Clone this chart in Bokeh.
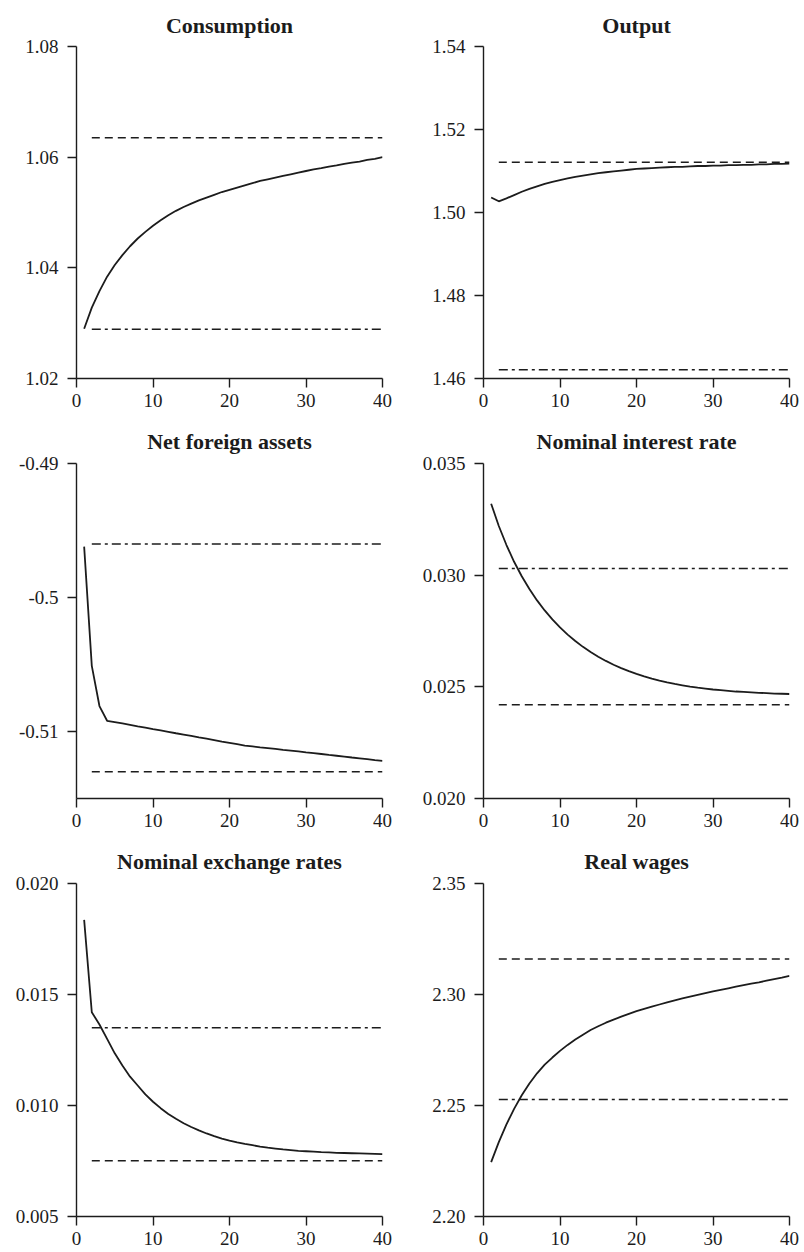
from bokeh.plotting import figure
from bokeh.layouts import column, row
from bokeh.models import Range1d, FixedTicker, PrintfTickFormatter, CustomJSTickFormatter
from bokeh.embed import file_html
from bokeh.resources import INLINE

# ---------------- data ----------------
periods = list(range(1, 41))
x_ticks = [0, 10, 20, 30, 40]

titles = ["Consumption", "Output", "Net foreign assets",
          "Nominal interest rate", "Nominal exchange rates", "Real wages"]

consumption = [1.0290, 1.0328, 1.0358, 1.0384, 1.0405, 1.0423, 1.0439, 1.0453, 1.0465, 1.0476,
               1.0486, 1.0495, 1.0503, 1.0510, 1.0516, 1.0522, 1.0527, 1.0532, 1.0537, 1.0541,
               1.0545, 1.0549, 1.0553, 1.0557, 1.0560, 1.0563, 1.0566, 1.0569, 1.0572, 1.0575,
               1.0578, 1.0580, 1.0583, 1.0585, 1.0588, 1.0590, 1.0592, 1.0595, 1.0597, 1.0600]
output = [1.5036, 1.5027, 1.5034, 1.5042, 1.5050, 1.5057, 1.5063, 1.5069, 1.5074, 1.5078,
          1.5082, 1.5086, 1.5089, 1.5092, 1.5095, 1.5097, 1.5099, 1.5101, 1.5103, 1.5105,
          1.5106, 1.5107, 1.5108, 1.5109, 1.5110, 1.5110, 1.5111, 1.5112, 1.5112, 1.5113,
          1.5113, 1.5114, 1.5114, 1.5115, 1.5115, 1.5116, 1.5116, 1.5117, 1.5117, 1.5118]
net_foreign_assets = [-0.49620, -0.50510, -0.50810, -0.50920, -0.50930, -0.50940, -0.50950, -0.50961,
                      -0.50971, -0.50982, -0.50992, -0.51002, -0.51013, -0.51023, -0.51033, -0.51044,
                      -0.51054, -0.51064, -0.51075, -0.51085, -0.51095, -0.51105, -0.51111, -0.51118,
                      -0.51124, -0.51130, -0.51137, -0.51143, -0.51149, -0.51156, -0.51162, -0.51168,
                      -0.51175, -0.51181, -0.51187, -0.51194, -0.51200, -0.51206, -0.51213, -0.51219]
interest_rate = [0.03320, 0.03220, 0.03135, 0.03060, 0.02995, 0.02938, 0.02887, 0.02842, 0.02802, 0.02766,
                 0.02734, 0.02705, 0.02679, 0.02656, 0.02635, 0.02616, 0.02599, 0.02584, 0.02570, 0.02558,
                 0.02547, 0.02537, 0.02528, 0.02520, 0.02513, 0.02507, 0.02501, 0.02496, 0.02492, 0.02488,
                 0.02485, 0.02482, 0.02479, 0.02477, 0.02475, 0.02473, 0.02472, 0.02470, 0.02469, 0.02468]
exchange_rate = [0.01836, 0.01420, 0.01365, 0.01300, 0.01235, 0.01180, 0.01130, 0.01090, 0.01050, 0.01017,
                 0.00988, 0.00962, 0.00940, 0.00920, 0.00903, 0.00888, 0.00874, 0.00862, 0.00851, 0.00842,
                 0.00834, 0.00827, 0.00821, 0.00815, 0.00810, 0.00806, 0.00802, 0.00799, 0.00796, 0.00794,
                 0.00792, 0.00790, 0.00789, 0.00787, 0.00786, 0.00785, 0.00784, 0.00783, 0.00782, 0.00781]
real_wages = [2.2245, 2.2335, 2.2415, 2.2485, 2.2546, 2.2599, 2.2645, 2.2684, 2.2716, 2.2746,
              2.2773, 2.2797, 2.2819, 2.2840, 2.2857, 2.2873, 2.2887, 2.2900, 2.2913, 2.2925,
              2.2935, 2.2945, 2.2955, 2.2965, 2.2974, 2.2982, 2.2990, 2.2998, 2.3006, 2.3014,
              2.3021, 2.3028, 2.3035, 2.3042, 2.3049, 2.3055, 2.3062, 2.3069, 2.3076, 2.3084]

# dashed and dash-dot reference levels
dashed_levels = [1.0635, 1.5121, -0.5130, 0.0242, 0.00751, 2.3160]
dashdot_levels = [1.0289, 1.4621, -0.4960, 0.0303, 0.01350, 2.2527]

# y-axis ranges and tick labels
y_ranges = [(1.02, 1.08), (1.46, 1.54), (-0.515, -0.49), (0.020, 0.035), (0.005, 0.020), (2.20, 2.35)]
y_ticks = [[1.02, 1.04, 1.06, 1.08],
           [1.46, 1.48, 1.50, 1.52, 1.54],
           [-0.51, -0.50, -0.49],
           [0.020, 0.025, 0.030, 0.035],
           [0.005, 0.010, 0.015, 0.020],
           [2.20, 2.25, 2.30, 2.35]]
y_formats = ["%.2f", "%.2f", None, "%.3f", "%.3f", "%.2f"]

series = [consumption, output, net_foreign_assets, interest_rate, exchange_rate, real_wages]

# ---------------- styling ----------------
FONT = "Liberation Serif"
INK = "#1c1c1c"

# (top border, frame height, bottom border, title standoff) per row
row_dims = [(46, 332, 38, 18), (47, 335, 38, 19), (47, 333, 34, 19)]


def make_panel(i):
    r = i // 2
    left_col = (i % 2 == 0)
    top, fh, bottom, standoff = row_dims[r]
    if left_col:
        w, bl, br = 408, 76, 26
    else:
        w, bl, br = 392, 75, 11
    p = figure(width=w, height=top + fh + bottom, output_backend="svg",
               toolbar_location=None, tools="",
               x_range=Range1d(0, 40), y_range=Range1d(*y_ranges[i]),
               min_border_left=bl, min_border_right=br,
               min_border_top=top, min_border_bottom=bottom,
               title=titles[i])
    p.title.align = "center"
    p.title.text_font = FONT
    p.title.text_font_size = "22px"
    p.title.text_font_style = "bold"
    p.title.text_color = INK
    p.title.standoff = standoff

    p.outline_line_color = None
    p.xgrid.visible = False
    p.ygrid.visible = False
    p.background_fill_color = "white"
    p.border_fill_color = "white"

    for ax in (p.xaxis[0], p.yaxis[0]):
        ax.axis_line_color = INK
        ax.axis_line_width = 1.4
        ax.major_tick_line_color = INK
        ax.major_tick_line_width = 1.4
        ax.major_tick_out = 9
        ax.major_tick_in = 0
        ax.minor_tick_line_color = None
        ax.major_label_text_font = FONT
        ax.major_label_text_font_size = "19px"
        ax.major_label_text_color = INK
    p.xaxis[0].ticker = FixedTicker(ticks=x_ticks)
    p.xaxis[0].major_label_standoff = 6
    p.yaxis[0].ticker = FixedTicker(ticks=y_ticks[i])
    p.yaxis[0].major_label_standoff = 9
    if y_formats[i] is None:
        p.yaxis[0].formatter = CustomJSTickFormatter(
            code="return String(Math.round(tick * 100) / 100);")
    else:
        p.yaxis[0].formatter = PrintfTickFormatter(format=y_formats[i])

    xs_flat = periods[1:]
    p.line(xs_flat, [dashed_levels[i]] * len(xs_flat), line_color=INK,
           line_width=1.5, line_dash="8 5")
    p.line(xs_flat, [dashdot_levels[i]] * len(xs_flat), line_color=INK,
           line_width=1.5, line_dash="9 4 3 4")
    p.line(periods, series[i], line_color=INK, line_width=1.8)
    return p


panels = [make_panel(i) for i in range(6)]
layout = column(row(panels[0], panels[1]),
                row(panels[2], panels[3]),
                row(panels[4], panels[5]))

open("out.html", "w").write(file_html(layout, INLINE))
